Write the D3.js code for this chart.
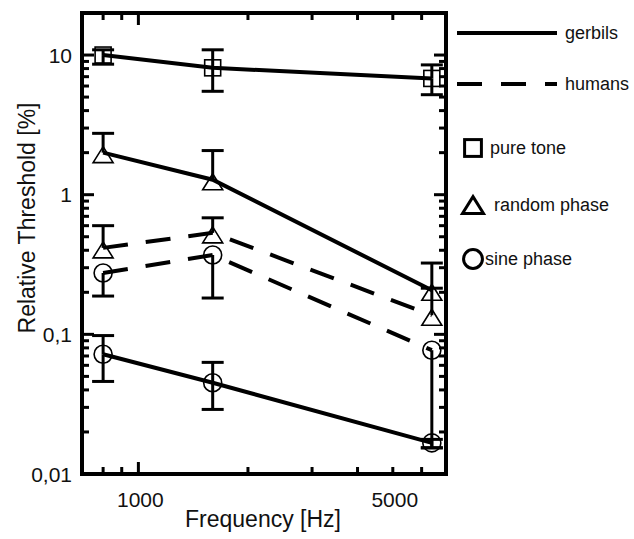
<!DOCTYPE html>
<meta charset = "utf-8">
<style>

body { margin: 0; background: #fff; }
text { font-family: "Liberation Sans", Arial, sans-serif; fill: #111; }

</style>

<svg width = "634" height="539"></svg>
<script src="https://d3js.org/d3.v7.min.js"></script>

<script>

// data
let freqs = [800, 1600, 6400];

let gerbilPure = [10, 8.1, 6.8];
let gerbilPureHi = [10.9, 10.9, 8.5];
let gerbilPureLo = [8.6, 5.5, 5.2];

let gerbilRandom = [2.0, 1.28, 0.207];
let gerbilRandomHi = [2.75, 2.07, 0.324];

let gerbilSine = [0.072, 0.045, 0.0167];
let gerbilSineHi = [0.098, 0.063, 0.0177];
let gerbilSineLo = [0.046, 0.029, 0.0154];

let humanRandom = [0.416, 0.533, 0.137];
let humanRandomHi = [0.6, 0.683, 0.214];

let humanSine = [0.275, 0.37, 0.077];
let humanSineLo = [0.188, 0.182, 0.0154];

let yMajor = [0.01, 0.1, 1, 10];
let yLabels = ["0,01", "0,1", "1", "10"];
let xLabelTicks = [1000, 5000];
let xLabels = ["1000", "5000"];

let lineNames = ["gerbils", "humans"];
let markerNames = ["pure tone", "random phase", "sine phase"];

let series = [
  {values: gerbilPure, hi: gerbilPureHi, lo: gerbilPureLo, marker: "square", dash: null},
  {values: gerbilRandom, hi: gerbilRandomHi, lo: null, marker: "triangle", dash: null},
  {values: gerbilSine, hi: gerbilSineHi, lo: gerbilSineLo, marker: "circle", dash: null},
  {values: humanRandom, hi: humanRandomHi, lo: null, marker: "triangle", dash: "25,18"},
  {values: humanSine, hi: null, lo: humanSineLo, marker: "circle", dash: "25,18"}
];

let svg = d3.select("svg");
let pLeft = 82, pRight = 446, pTop = 13, pBottom = 474;

let x = d3.scaleLog().domain([700, 7000]).range([pLeft, pRight]);
let y = d3.scaleLog().domain([0.01, 20]).range([pBottom, pTop]);

// minor ticks
let xTicks = [];
[100, 1000].forEach(function(p) {
  for (let k = 1; k < 10; k++) {
    let v = k * p;
    if (v >= 700 && v <= 7000) xTicks.push(v);
  }
});
let yTicks = [];
[0.01, 0.1, 1, 10].forEach(function(p) {
  for (let k = 1; k < 10; k++) {
    let v = +(k * p).toPrecision(3);
    if (v <= 20) yTicks.push(v);
  }
});

let ticks = svg.append("g").attr("stroke", "#000").attr("stroke-width", 3);

function xLen(v) { return v === 1000 ? 12 : 7; }
function yLen(v) { return yMajor.indexOf(v) >= 0 ? 12 : 7; }

ticks.selectAll(".xb").data(xTicks).enter().append("line")
  .attr("x1", d => x(d)).attr("x2", d => x(d))
  .attr("y1", pBottom).attr("y2", d => pBottom - xLen(d));
ticks.selectAll(".xt").data(xTicks).enter().append("line")
  .attr("x1", d => x(d)).attr("x2", d => x(d))
  .attr("y1", pTop).attr("y2", d => pTop + xLen(d));
ticks.selectAll(".yl").data(yTicks).enter().append("line")
  .attr("y1", d => y(d)).attr("y2", d => y(d))
  .attr("x1", pLeft).attr("x2", d => pLeft + yLen(d));
ticks.selectAll(".yr").data(yTicks).enter().append("line")
  .attr("y1", d => y(d)).attr("y2", d => y(d))
  .attr("x1", pRight).attr("x2", d => pRight - yLen(d));

// tick labels
svg.append("g").selectAll("text").data(yMajor).enter().append("text")
  .attr("x", 72).attr("y", d => y(d)).attr("dy", "0.36em")
  .attr("text-anchor", "end").style("font-size", "21px")
  .text((d, i) => yLabels[i]);

svg.append("g").selectAll("text").data(xLabelTicks).enter().append("text")
  .attr("x", d => x(d) + 2).attr("y", 507)
  .attr("text-anchor", "middle").style("font-size", "21px")
  .text((d, i) => xLabels[i]);

svg.append("text").attr("x", 263).attr("y", 527)
  .attr("text-anchor", "middle").style("font-size", "23px")
  .text("Frequency [Hz]");

svg.append("text").attr("transform", "translate(35,218) rotate(-90)")
  .attr("text-anchor", "middle").style("font-size", "23px")
  .text("Relative Threshold [%]");

// markers
function drawMarker(g, type, cx, cy, s, sw) {
  if (type === "circle") {
    g.append("circle").attr("cx", cx).attr("cy", cy).attr("r", 9 * s)
      .attr("fill", "none").attr("stroke", "#000").attr("stroke-width", sw);
  } else if (type === "square") {
    g.append("rect").attr("x", cx - 8 * s).attr("y", cy - 8 * s)
      .attr("width", 16 * s).attr("height", 16 * s)
      .attr("fill", "none").attr("stroke", "#000").attr("stroke-width", sw);
  } else {
    let w = 10 * s, h = 8 * s;
    g.append("path")
      .attr("d", "M" + cx + "," + (cy - h) + "L" + (cx + w) + "," + (cy + h) + "L" + (cx - w) + "," + (cy + h) + "Z")
      .attr("fill", "none").attr("stroke", "#000").attr("stroke-width", sw)
      .attr("stroke-linejoin", "miter");
  }
}

let line = d3.line().x((d, i) => x(freqs[i])).y(d => y(d));

let plot = svg.append("g");
series.forEach(function(s) {
  plot.append("path").datum(s.values)
    .attr("d", line)
    .attr("fill", "none").attr("stroke", "#000").attr("stroke-width", 4)
    .attr("stroke-dasharray", s.dash);
});

let bars = svg.append("g").attr("stroke", "#000").attr("stroke-width", 3);
series.forEach(function(s) {
  [s.hi, s.lo].forEach(function(b) {
    if (!b) return;
    b.forEach(function(v, i) {
      let cx = x(freqs[i]);
      bars.append("line").attr("x1", cx).attr("x2", cx)
        .attr("y1", y(s.values[i])).attr("y2", y(v));
      bars.append("line").attr("x1", cx - 11).attr("x2", cx + 11)
        .attr("y1", y(v)).attr("y2", y(v));
    });
  });
});

let marks = svg.append("g");
series.forEach(function(s) {
  s.values.forEach(function(v, i) {
    drawMarker(marks, s.marker, x(freqs[i]), y(v) + (s.marker === "triangle" ? 2 : 0), 1, 1.6);
  });
});

// frame
svg.append("rect").attr("x", pLeft).attr("y", pTop)
  .attr("width", pRight - pLeft).attr("height", pBottom - pTop)
  .attr("fill", "none").attr("stroke", "#000").attr("stroke-width", 4);

// legend
let legend = svg.append("g");
let lineDash = [null, "25,19"];
let lineY = [33, 84];
lineNames.forEach(function(n, i) {
  legend.append("line").attr("x1", 457).attr("x2", 557)
    .attr("y1", lineY[i]).attr("y2", lineY[i])
    .attr("stroke", "#000").attr("stroke-width", 4)
    .attr("stroke-dasharray", lineDash[i]);
  legend.append("text").attr("x", 565).attr("y", lineY[i] + 6)
    .style("font-size", "18px").text(n);
});
let markerTypes = ["square", "triangle", "circle"];
let markerY = [148, 205, 259];
let markerTextX = [490, 494, 485];
markerNames.forEach(function(n, i) {
  drawMarker(legend, markerTypes[i], 473, markerY[i], 1.05, 3);
  legend.append("text").attr("x", markerTextX[i]).attr("y", markerY[i] + 6)
    .style("font-size", "18px").text(n);
});

</script>
